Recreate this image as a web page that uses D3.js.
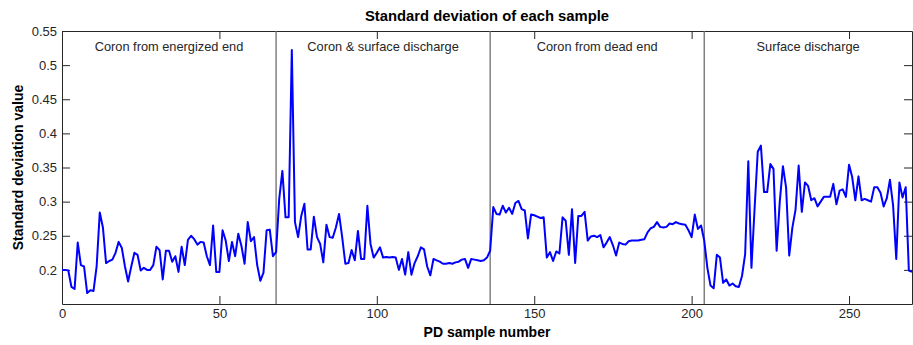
<!DOCTYPE html>
<html>
<head>
<meta charset="utf-8">
<script src="https://cdn.jsdelivr.net/npm/d3@7"></script>
<style>
  body { margin: 0; background: #fff; }
  svg { display: block; font-family: "Liberation Sans", Arial, sans-serif; }
  .axis text { font-size: 13px; fill: #262626; }
  .axis path, .axis line { stroke: #262626; }
  .axis-title { font-size: 14px; font-weight: bold; fill: #000; }
  .chart-title { font-size: 14.8px; font-weight: bold; fill: #000; }
  .section-label { font-size: 12.8px; fill: #262626; }
</style>
</head>
<body>
<svg id="chart"></svg>
<script>
// std value of each PD sample, index = sample number
const sampleValues = [
  0.200, 0.200, 0.199, 0.175, 0.172, 0.240, 0.207, 0.205, 0.166, 0.170,
  0.169, 0.205, 0.284, 0.262, 0.210, 0.213, 0.215, 0.225, 0.241, 0.232,
  0.205, 0.183, 0.205, 0.225, 0.222, 0.199, 0.203, 0.200, 0.200, 0.207,
  0.234, 0.229, 0.186, 0.228, 0.228, 0.212, 0.220, 0.197, 0.234, 0.207,
  0.244, 0.250, 0.245, 0.237, 0.241, 0.240, 0.220, 0.207, 0.265, 0.197,
  0.197, 0.258, 0.243, 0.213, 0.241, 0.220, 0.253, 0.235, 0.209, 0.270,
  0.242, 0.248, 0.207, 0.184, 0.196, 0.258, 0.259, 0.220, 0.226, 0.304,
  0.345, 0.277, 0.277, 0.522, 0.270, 0.248, 0.279, 0.297, 0.230, 0.230,
  0.278, 0.248, 0.238, 0.211, 0.266, 0.248, 0.247, 0.262, 0.282, 0.248,
  0.209, 0.210, 0.229, 0.214, 0.257, 0.216, 0.216, 0.294, 0.238, 0.218,
  0.225, 0.233, 0.218, 0.219, 0.218, 0.219, 0.218, 0.200, 0.216, 0.193,
  0.226, 0.193, 0.210, 0.220, 0.233, 0.230, 0.205, 0.192, 0.216, 0.214,
  0.212, 0.209, 0.209, 0.210, 0.209, 0.211, 0.212, 0.215, 0.216, 0.203,
  0.216, 0.215, 0.214, 0.213, 0.214, 0.218, 0.228, 0.292, 0.282, 0.281,
  0.294, 0.284, 0.291, 0.282, 0.298, 0.301, 0.289, 0.287, 0.246, 0.281,
  0.280, 0.278, 0.276, 0.277, 0.218, 0.226, 0.213, 0.227, 0.224, 0.277,
  0.272, 0.222, 0.289, 0.210, 0.279, 0.279, 0.285, 0.243, 0.249, 0.250,
  0.248, 0.251, 0.233, 0.240, 0.248, 0.236, 0.221, 0.240, 0.238, 0.237,
  0.242, 0.243, 0.243, 0.243, 0.244, 0.245, 0.255, 0.261, 0.263, 0.270,
  0.263, 0.262, 0.263, 0.268, 0.267, 0.270, 0.268, 0.267, 0.266, 0.258,
  0.248, 0.281, 0.260, 0.265, 0.243, 0.203, 0.177, 0.173, 0.222, 0.218,
  0.181, 0.186, 0.177, 0.180, 0.176, 0.175, 0.191, 0.223, 0.359, 0.203,
  0.290, 0.373, 0.382, 0.314, 0.314, 0.355, 0.348, 0.228, 0.300, 0.352,
  0.321, 0.221, 0.262, 0.288, 0.353, 0.285, 0.328, 0.323, 0.302, 0.305,
  0.293, 0.300, 0.307, 0.307, 0.307, 0.326, 0.296, 0.316, 0.318, 0.307,
  0.354, 0.336, 0.302, 0.337, 0.302, 0.304, 0.302, 0.300, 0.321, 0.321,
  0.313, 0.293, 0.305, 0.332, 0.294, 0.216, 0.328, 0.306, 0.321, 0.199,
  0.197
];
const sectionBounds = [0, 68, 136, 204, 270];
const sectionLabels = ['Coron from energized end', 'Coron & surface discharge', 'Coron from dead end', 'Surface discharge'];
const xTicks = [0, 50, 100, 150, 200, 250];
const yTicks = [0.2, 0.25, 0.3, 0.35, 0.4, 0.45, 0.5, 0.55];

class StdDevVis {
  constructor(_config, _data) {
    this.config = {
      parentElement: _config.parentElement,
      containerWidth: _config.containerWidth || 913,
      containerHeight: _config.containerHeight || 345,
      margin: _config.margin || {top: 31, right: 1, bottom: 41, left: 62},
    };
    this.data = _data;
    this.initVis();
  }

  initVis() {
    let vis = this;
    vis.width = vis.config.containerWidth - vis.config.margin.left - vis.config.margin.right;
    vis.height = vis.config.containerHeight - vis.config.margin.top - vis.config.margin.bottom;

    vis.svg = d3.select(vis.config.parentElement)
      .attr('width', vis.config.containerWidth)
      .attr('height', vis.config.containerHeight);
    vis.chart = vis.svg.append('g')
      .attr('transform', `translate(${vis.config.margin.left},${vis.config.margin.top})`);

    vis.xScale = d3.scaleLinear().domain([0, 270]).range([0, vis.width]);
    vis.yScale = d3.scaleLinear().domain([0.15, 0.55]).range([vis.height, 0]);

    // matlab style: ticks point inward on all four sides
    vis.xAxis = d3.axisBottom(vis.xScale).tickValues(xTicks).tickSizeInner(-8).tickSizeOuter(0).tickPadding(5);
    vis.yAxis = d3.axisLeft(vis.yScale).tickValues(yTicks).tickSizeInner(-8).tickSizeOuter(0).tickPadding(5).tickFormat(d => d);
    vis.xAxisTop = d3.axisTop(vis.xScale).tickValues(xTicks).tickSizeInner(-8).tickSizeOuter(0).tickFormat('');
    vis.yAxisRight = d3.axisRight(vis.yScale).tickValues(yTicks).tickSizeInner(-8).tickSizeOuter(0).tickFormat('');

    vis.chart.append('g').attr('class', 'axis x-axis').attr('transform', `translate(0,${vis.height})`).call(vis.xAxis);
    vis.chart.append('g').attr('class', 'axis y-axis').call(vis.yAxis);
    vis.chart.append('g').attr('class', 'axis').call(vis.xAxisTop);
    vis.chart.append('g').attr('class', 'axis').attr('transform', `translate(${vis.width},0)`).call(vis.yAxisRight);

    vis.svg.append('text').attr('class', 'chart-title')
      .attr('x', vis.config.margin.left + vis.width / 2).attr('y', 21)
      .attr('text-anchor', 'middle').text('Standard deviation of each sample');
    vis.svg.append('text').attr('class', 'axis-title')
      .attr('x', vis.config.margin.left + vis.width / 2).attr('y', 337)
      .attr('text-anchor', 'middle').text('PD sample number');
    vis.svg.append('text').attr('class', 'axis-title')
      .attr('transform', `translate(23,${vis.config.margin.top + vis.height / 2}) rotate(-90)`)
      .attr('text-anchor', 'middle').text('Standard deviation value');

    vis.renderVis();
  }

  renderVis() {
    let vis = this;

    vis.chart.selectAll('.section-line')
      .data(sectionBounds.slice(1, -1))
      .join('line')
      .attr('class', 'section-line')
      .attr('x1', d => vis.xScale(d)).attr('x2', d => vis.xScale(d))
      .attr('y1', 0).attr('y2', vis.height)
      .attr('stroke', '#6e6e6e').attr('stroke-width', 1.3);

    vis.chart.selectAll('.section-label')
      .data(sectionLabels)
      .join('text')
      .attr('class', 'section-label')
      .attr('x', (d, i) => vis.xScale((sectionBounds[i] + sectionBounds[i + 1]) / 2))
      .attr('y', 20)
      .attr('text-anchor', 'middle')
      .text(d => d);

    const line = d3.line()
      .x((d, i) => vis.xScale(i))
      .y(d => vis.yScale(d));

    vis.chart.append('path')
      .datum(vis.data)
      .attr('fill', 'none')
      .attr('stroke', '#0000ff')
      .attr('stroke-width', 2)
      .attr('stroke-linejoin', 'round')
      .attr('d', line);
  }
}

new StdDevVis({parentElement: '#chart'}, sampleValues);
</script>
</body>
</html>
